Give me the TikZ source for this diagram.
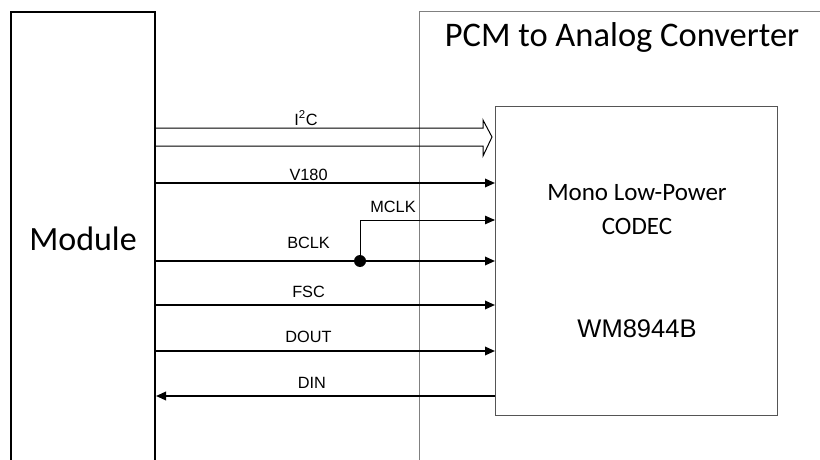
\documentclass[tikz,border=0pt]{standalone}
\usepackage{fontspec}
\setmainfont{Liberation Sans}
\newfontfamily\calibri{Carlito}
\usetikzlibrary{arrows.meta, positioning, calc}
\definecolor{FrameGray}{RGB}{128, 128, 128}
\definecolor{CodecGray}{RGB}{85, 85, 85}

\begin{document}
\begin{tikzpicture}[x=1pt, y=1pt,
    sig/.style={line width=1.8pt, -{Triangle[length=10pt, width=8.5pt]}},
    sigthin/.style={line width=1pt, -{Triangle[length=10pt, width=8.5pt]}},
    lbl/.style={font=\fontsize{16.3}{18}\selectfont, inner sep=0pt, anchor=base}]
  \useasboundingbox (0,0) rectangle (820,-460);
  \clip (0,0) rectangle (820,-460);

  % blocks
  \node[draw, line width=2pt, minimum width=144pt, minimum height=454pt, inner sep=0pt, anchor=north west,
        font=\calibri\fontsize{34}{36}\selectfont] (module) at (10,-11) {Module};
  \node[draw=FrameGray, line width=1.4pt, minimum width=500pt, minimum height=500pt, anchor=north west] (pcm) at (419,-11) {};
  \node[font=\calibri\fontsize{34.5}{40}\selectfont, inner sep=0pt, anchor=base] (title) at (622,-47) {PCM to Analog Converter};
  \node[draw=CodecGray, line width=1pt, minimum width=282pt, minimum height=309pt, anchor=north west] (codec) at (495,-106) {};
  \node[font=\calibri\fontsize{25}{30}\selectfont, inner sep=0pt, anchor=base] (codecname) at (637,-200) {Mono Low-Power};
  \node[font=\calibri\fontsize{25}{30}\selectfont, inner sep=0pt, anchor=base] (codectype) at (637,-234) {CODEC};
  \node[font=\fontsize{25.5}{30}\selectfont, inner sep=0pt, anchor=base] (part) at (637,-337) {WM8944B};

  % I2C bus
  \draw[line width=1pt] (module.east |- 0,-128) -- (483,-128) -- (483,-120) -- ($(codec.west |- 0,-137)+(-3,0)$)
    -- (483,-156) -- (483,-146) -- (module.east |- 0,-146);
  \node[lbl] (i2c) at (306,-125) {I\textsuperscript{2}C};

  % signals
  \foreach \y/\name/\dy in {-183/V180/3, -305/FSC/8, -351/DOUT/9}
    \draw[sig] (module.east |- 0,\y) -- node[lbl, pos=0.45, yshift=\dy pt] {\name} (codec.west |- 0,\y);

  \coordinate (bdot) at (360,-261);
  \draw[sig] (module.east |- bdot) -- node[lbl, pos=0.45, yshift=13pt] {BCLK} (codec.west |- bdot);
  \fill (bdot) circle (6pt);
  \draw[sigthin] (bdot) |- (codec.west |- 0,-220);
  \node[lbl] (mclk) at (393,-212) {MCLK};

  \draw[sig] (codec.west |- 0,-396) -- node[lbl, pos=0.54, yshift=8pt] {DIN} (module.east |- 0,-396);
\end{tikzpicture}
\end{document}
